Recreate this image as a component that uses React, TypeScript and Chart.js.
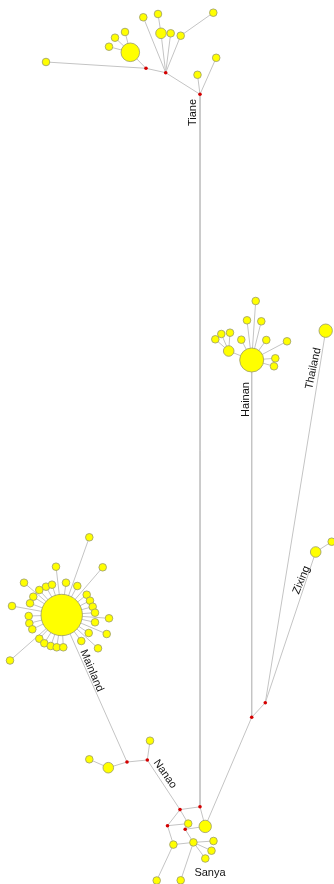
import React, { useEffect, useRef } from "react";
import { Chart, registerables } from "chart.js";

Chart.register(...registerables);

// Sampled haplotypes: [id, x, y, radius]
const tianeHaplotypes: [string, number, number, number][] = [
  ["T0", 46, 62, 3.8],
  ["TB", 130.3, 52.3, 9.3],
  ["T1", 109, 46.7, 3.8],
  ["T2", 115, 37.7, 3.8],
  ["T3", 125, 32, 3.8],
  ["T4", 143.3, 17.3, 3.8],
  ["T5", 158, 14, 3.8],
  ["T6", 161, 33.3, 5.3],
  ["T7", 170.7, 33.3, 3.8],
  ["T8", 180.7, 35.7, 3.8],
  ["T9", 213.3, 12.7, 3.8],
  ["T10", 197.5, 74.8, 3.8],
  ["T11", 216.2, 57.8, 3.8],
];

const hainanHaplotypes: [string, number, number, number][] = [
  ["HB", 251.7, 360, 12],
  ["H1", 255.7, 301, 3.8],
  ["H2", 247, 320.3, 3.8],
  ["H3", 261.3, 321.3, 3.8],
  ["H4", 215.3, 339.3, 3.8],
  ["H5", 221.3, 334, 3.8],
  ["H6", 230, 332.7, 3.8],
  ["H7", 241.3, 339.7, 3.8],
  ["H8", 266.3, 340, 3.8],
  ["H9", 287, 341.3, 3.8],
  ["H10", 228.7, 351, 5.3],
  ["H11", 275.3, 358.3, 3.8],
  ["H12", 274, 366.3, 3.8],
];

const thailandZixingHaplotypes: [string, number, number, number][] = [
  ["TH", 325.7, 330.7, 6.7],
  ["Z1", 315.7, 552, 5.3],
  ["Z2", 331.7, 541.7, 3.8],
];

const mainlandHaplotypes: [string, number, number, number][] = [
  ["MB", 61.7, 615, 20.7],
  ["M1", 89.3, 537.3, 3.8],
  ["M2", 56, 566.7, 3.8],
  ["M3", 102.7, 567.3, 3.8],
  ["M4", 24, 582.7, 3.8],
  ["M5", 39.3, 590, 3.8],
  ["M6", 46, 586.7, 3.8],
  ["M7", 52, 584.7, 3.8],
  ["M8", 66, 582.7, 3.8],
  ["M9", 77.3, 586, 3.8],
  ["M10", 33.3, 596.7, 3.8],
  ["M11", 30, 603.3, 3.8],
  ["M12", 12, 606, 3.8],
  ["M13", 86.7, 594.7, 3.8],
  ["M14", 90, 600.7, 3.8],
  ["M15", 92.7, 606.7, 3.8],
  ["M16", 95, 612.7, 3.8],
  ["M17", 109, 618.3, 3.8],
  ["M18", 95, 622.3, 3.8],
  ["M19", 28.7, 616, 3.8],
  ["M20", 29.3, 623.3, 3.8],
  ["M21", 32.3, 629.3, 3.8],
  ["M22", 39.3, 638.7, 3.8],
  ["M23", 44.3, 643.3, 3.8],
  ["M24", 50.7, 646, 3.8],
  ["M25", 56.7, 647.3, 3.8],
  ["M26", 63.3, 647.3, 3.8],
  ["M27", 81.3, 641, 3.8],
  ["M28", 88.7, 633, 3.8],
  ["M29", 106.7, 634, 3.8],
  ["M30", 98, 648.3, 3.8],
  ["M31", 10, 660.5, 3.8],
];

const nanaoHaplotypes: [string, number, number, number][] = [
  ["N1", 89.3, 759.3, 3.8],
  ["N2", 108.3, 767.7, 5.3],
  ["N3", 150, 740.7, 3.8],
];

const sanyaHaplotypes: [string, number, number, number][] = [
  ["S1", 188.2, 823.6, 3.8],
  ["SB", 205.2, 826.4, 6.2],
  ["S2", 173.4, 844.6, 3.8],
  ["S3", 193.4, 842.4, 3.8],
  ["S4", 213.5, 841, 3.8],
  ["S5", 211.5, 850.7, 3.8],
  ["S6", 205.3, 858.5, 3.8],
  ["S7", 156.7, 880.5, 3.8],
  ["S8", 180.7, 880.3, 3.8],
];

// Inferred median vectors: [id, x, y]
const medianVectors: [string, number, number][] = [
  ["mT1", 146, 68.3],
  ["mT2", 165.7, 72.7],
  ["mT3", 200, 94.3],
  ["mH", 251.7, 717.3],
  ["mZ", 265.3, 702.7],
  ["mN1", 127, 762],
  ["mN2", 147.3, 760],
  ["mS1", 180, 809.6],
  ["mS2", 200, 806.8],
  ["mS3", 167.5, 825.7],
  ["mS4", 185.2, 829.3],
];

// Mutational links between nodes
const links: [string, string][] = [
  ["T0", "mT1"], ["TB", "mT1"], ["T1", "TB"], ["T2", "TB"], ["T3", "TB"],
  ["mT1", "mT2"], ["T4", "mT2"], ["T5", "T6"], ["T6", "mT2"], ["T7", "mT2"],
  ["T8", "mT2"], ["T9", "T8"], ["mT2", "mT3"], ["T10", "mT3"], ["T11", "mT3"],
  ["mT3", "mS2"],
  ["H1", "HB"], ["H2", "HB"], ["H3", "HB"], ["H7", "HB"], ["H8", "HB"],
  ["H9", "HB"], ["H10", "HB"], ["H11", "HB"], ["H12", "HB"],
  ["H4", "H10"], ["H5", "H10"], ["H6", "H10"], ["HB", "mH"],
  ["TH", "mZ"], ["Z1", "mZ"], ["Z2", "Z1"], ["mZ", "mH"], ["mH", "SB"],
  ["M1", "MB"], ["M2", "MB"], ["M3", "MB"], ["M4", "MB"], ["M5", "MB"],
  ["M6", "MB"], ["M7", "MB"], ["M8", "MB"], ["M9", "MB"], ["M10", "MB"],
  ["M11", "MB"], ["M12", "MB"], ["M13", "MB"], ["M14", "MB"], ["M15", "MB"],
  ["M16", "MB"], ["M17", "MB"], ["M18", "MB"], ["M19", "MB"], ["M20", "MB"],
  ["M21", "MB"], ["M22", "MB"], ["M23", "MB"], ["M24", "MB"], ["M25", "MB"],
  ["M26", "MB"], ["M27", "MB"], ["M28", "MB"], ["M29", "MB"], ["M30", "MB"],
  ["M31", "MB"], ["MB", "mN1"],
  ["N1", "N2"], ["N2", "mN1"], ["mN1", "mN2"], ["N3", "mN2"], ["mN2", "mS1"],
  ["mS1", "mS2"], ["mS1", "mS3"], ["mS1", "S1"], ["mS2", "SB"], ["mS3", "S1"],
  ["mS3", "S2"], ["S1", "mS4"], ["mS4", "SB"], ["mS4", "S3"], ["S2", "S3"],
  ["S3", "S4"], ["S3", "S5"], ["S3", "S6"], ["S2", "S7"], ["S3", "S8"],
];

// Population labels: [text, x, y, rotation in degrees]
const populationLabels: [string, number, number, number][] = [
  ["Tiane", 193.3, 112.5, -90],
  ["Hainan", 246, 399.5, -90],
  ["Thailand", 313.3, 368.5, -78],
  ["Zixing", 301.5, 580, -68],
  ["Mainland", 91.7, 670.7, 67],
  ["Nanao", 165, 774, 55],
  ["Sanya", 210, 873, 0],
];

const allHaplotypes = [
  ...tianeHaplotypes,
  ...hainanHaplotypes,
  ...thailandZixingHaplotypes,
  ...mainlandHaplotypes,
  ...nanaoHaplotypes,
  ...sanyaHaplotypes,
];

const labelPlugin = {
  id: "populationLabels",
  afterDatasetsDraw(chart: any) {
    const { ctx, scales } = chart;
    ctx.save();
    ctx.font = "11px 'Liberation Sans', Arial, sans-serif";
    ctx.fillStyle = "#111111";
    ctx.textAlign = "center";
    ctx.textBaseline = "middle";
    for (const [text, x, y, rot] of populationLabels) {
      const px = scales.x.getPixelForValue(x);
      const py = scales.y.getPixelForValue(y);
      ctx.save();
      ctx.translate(px, py);
      ctx.rotate((rot * Math.PI) / 180);
      ctx.fillText(text, 0, 0);
      ctx.restore();
    }
    ctx.restore();
  },
};

export default function App() {
  const canvasRef = useRef<HTMLCanvasElement | null>(null);

  useEffect(() => {
    document.body.style.margin = "0";
    const canvas = canvasRef.current;
    if (!canvas) return;

    const pos = new Map<string, { x: number; y: number }>();
    for (const [id, x, y] of allHaplotypes) pos.set(id, { x, y });
    for (const [id, x, y] of medianVectors) pos.set(id, { x, y });

    const linkData: any[] = [];
    for (const [a, b] of links) {
      const p = pos.get(a)!;
      const q = pos.get(b)!;
      linkData.push({ x: p.x, y: p.y }, { x: q.x, y: q.y }, { x: null, y: null });
    }

    const chart = new Chart(canvas, {
      type: "bubble",
      data: {
        datasets: [
          {
            type: "line",
            label: "links",
            data: linkData,
            borderColor: "#c4c4c4",
            borderWidth: 1,
            pointRadius: 0,
            spanGaps: false,
            fill: false,
            order: 3,
            clip: false,
          } as any,
          {
            label: "haplotypes",
            data: allHaplotypes.map(([, x, y, r]) => ({ x, y, r })),
            backgroundColor: "#ffff00",
            borderColor: "#9a9a6a",
            borderWidth: 0.8,
            order: 2,
            clip: false,
          } as any,
          {
            label: "median vectors",
            data: medianVectors.map(([, x, y]) => ({ x, y, r: 1.8 })),
            backgroundColor: "#d40000",
            borderColor: "#d40000",
            borderWidth: 0,
            order: 1,
            clip: false,
          } as any,
        ],
      },
      options: {
        responsive: false,
        animation: false,
        layout: { padding: 0, autoPadding: false },
        plugins: {
          legend: { display: false },
          tooltip: { enabled: false },
        },
        scales: {
          x: { type: "linear", min: 0, max: 334, display: false },
          y: { type: "linear", min: 0, max: 884, reverse: true, display: false },
        },
      },
      plugins: [labelPlugin],
    });

    return () => chart.destroy();
  }, []);

  return (
    <div style={{ width: 334, height: 884, background: "#ffffff" }}>
      <canvas ref={canvasRef} width={334} height={884} />
    </div>
  );
}
